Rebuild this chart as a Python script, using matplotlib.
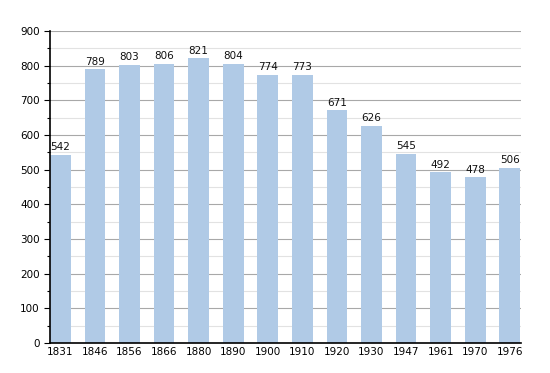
import matplotlib.pyplot as plt
from matplotlib.ticker import MultipleLocator

years = ['1831', '1846', '1856', '1866', '1880', '1890', '1900', '1910',
         '1920', '1930', '1947', '1961', '1970', '1976']
population = [542, 789, 803, 806, 821, 804, 774, 773, 671, 626, 545, 492, 478, 506]

fig = plt.figure(figsize=(5.5, 3.73), dpi=100)
ax = fig.add_axes([0.0909, 0.0804, 0.856, 0.8366])

x = range(len(years))
bars = ax.bar(x, population, width=0.6, color='#b0cae6', zorder=3)

for i, v in enumerate(population):
    ax.text(i, v + 8, str(v), ha='center', va='bottom', fontsize=7.5, color='#111111', zorder=4)

ax.set_xlim(-0.3, 13.32)
ax.set_ylim(0, 900)
ax.set_xticks(list(x))
ax.set_xticklabels(years, fontsize=7.5)
ax.yaxis.set_major_locator(MultipleLocator(100))
ax.yaxis.set_minor_locator(MultipleLocator(50))
ax.tick_params(axis='y', labelsize=7.5, length=4, width=0.8)
ax.tick_params(axis='y', which='minor', length=2.5, width=0.8)
ax.tick_params(axis='x', length=0, pad=3)

ax.grid(axis='y', which='major', color='#a8a8a8', linewidth=0.8, zorder=1)
ax.grid(axis='y', which='minor', color='#e2e2e2', linewidth=0.8, zorder=1)

for s in ['top', 'right']:
    ax.spines[s].set_visible(False)
ax.spines['left'].set_linewidth(1.2)
ax.spines['bottom'].set_linewidth(1.2)
ax.spines['left'].set_zorder(5)
ax.spines['bottom'].set_zorder(5)

plt.savefig('out.png', dpi=100)
